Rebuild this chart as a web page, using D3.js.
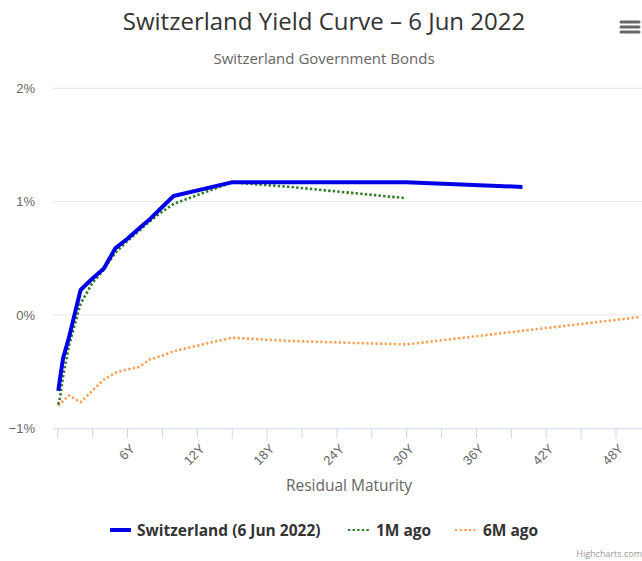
<!DOCTYPE html>
<html>
<head>
<meta charset="utf-8">
<script src="https://cdn.jsdelivr.net/npm/d3@7"></script>
<style>
  html, body { margin: 0; padding: 0; background: #fff; }
  svg { display: block; font-family: "Open Sans", "Noto Sans", sans-serif; }
</style>
</head>
<body>
<svg id="chart" width="642" height="561"></svg>
<script>
// Residual maturities in years
const maturities = [1/12, 0.25, 0.5, 1, 2, 3, 4, 5, 6, 7, 8, 9, 10, 15, 20, 30, 40, 50];

// Yields (%) by maturity; null where a series has no bond
const current = [-0.67, -0.55, -0.38, -0.20, 0.22, 0.32, 0.41, 0.59, 0.67, 0.76, 0.85, 0.95, 1.05, 1.17, 1.17, 1.17, 1.13, null];
const oneMonthAgo = [-0.79, -0.72, -0.54, -0.27, 0.10, 0.28, 0.40, 0.55, 0.65, 0.74, 0.83, 0.91, 0.98, 1.17, 1.13, 1.03, null, null];
const sixMonthsAgo = [-0.80, -0.78, -0.76, -0.71, -0.77, -0.67, -0.57, -0.51, -0.48, -0.46, -0.39, -0.36, -0.32, -0.20, -0.23, -0.26, null, -0.02];

const seriesNames = ["Switzerland (6 Jun 2022)", "1M ago", "6M ago"];
const xTicks = d3.range(0, 51, 3);
const yTicks = [-1, 0, 1, 2];

const svg = d3.select("#chart");
const W = 642;

const x = d3.scaleLinear().domain([-0.37, 52]).range([53, 662]);
const y = d3.scaleLinear().domain([-1, 2]).range([428.3, 88.3]);

// Title and subtitle
svg.append("text").attr("x", 324).attr("y", 30).attr("text-anchor", "middle")
  .attr("fill", "#333").attr("font-size", 24).text("Switzerland Yield Curve – 6 Jun 2022");
svg.append("text").attr("x", 324).attr("y", 64).attr("text-anchor", "middle")
  .attr("fill", "#666").attr("font-size", 15).text("Switzerland Government Bonds");

// Export menu icon
[22, 27, 32].forEach(yy => {
  svg.append("line").attr("x1", 621).attr("x2", 639).attr("y1", yy).attr("y2", yy)
    .attr("stroke", "#666").attr("stroke-width", 3).attr("stroke-linecap", "round");
});

// Horizontal grid
const grid = svg.append("g");
yTicks.filter(t => t !== -1).forEach(t => {
  grid.append("line").attr("x1", 53).attr("x2", W).attr("y1", y(t)).attr("y2", y(t))
    .attr("stroke", "#e6e6e6").attr("stroke-width", 1);
});

// Y axis labels
const yAxis = d3.axisLeft(y).tickValues(yTicks).tickSize(0)
  .tickFormat(d => (d < 0 ? "−" + Math.abs(d) : d) + "%");
const gy = svg.append("g").attr("transform", "translate(41,0)").call(yAxis);
gy.select(".domain").remove();
gy.selectAll("text").attr("fill", "#666").attr("font-size", 13).attr("x", -6);

// X axis
const xAxis = d3.axisBottom(x).tickValues(xTicks).tickSize(10).tickSizeOuter(0)
  .tickFormat(d => (d % 6 === 0 && d > 0) ? d + "Y" : "");
const gx = svg.append("g").attr("transform", `translate(0,${y(-1)})`).call(xAxis);
gx.select(".domain").attr("d", `M53,0.5H${W}`).attr("stroke", "#ccd6eb");
gx.selectAll(".tick line").attr("stroke", "#ccd6eb");
gx.selectAll(".tick text")
  .attr("fill", "#666").attr("font-size", 13)
  .attr("text-anchor", "end")
  .attr("transform", "translate(5,18) rotate(-45)")
  .attr("y", 0).attr("dy", "0.35em");

svg.append("text").attr("x", 349).attr("y", 491).attr("text-anchor", "middle")
  .attr("fill", "#666").attr("font-size", 15.5).text("Residual Maturity");

// Lines
const line = d3.line()
  .defined(d => d[1] !== null)
  .x(d => x(d[0])).y(d => y(d[1]));

svg.append("clipPath").attr("id", "plot-clip")
  .append("rect").attr("x", 40).attr("y", 70).attr("width", 610).attr("height", 380);

const styles = [
  { data: current, color: "#0000e6", width: 4, dash: null },
  { data: oneMonthAgo, color: "#2f7d24", width: 2.6, dash: "2.4,2.2" },
  { data: sixMonthsAgo, color: "#f7a35c", width: 2.6, dash: "2.4,2.2" }
];

const plot = svg.append("g").attr("clip-path", "url(#plot-clip)");
// draw back-to-front: 6M, 1M, current
[2, 1, 0].forEach(i => {
  const s = styles[i];
  const pts = maturities.map((m, k) => [m, s.data[k]]).filter(p => p[1] !== null);
  plot.append("path").datum(pts)
    .attr("d", line)
    .attr("fill", "none")
    .attr("stroke", s.color)
    .attr("stroke-width", s.width)
    .attr("stroke-linejoin", "round")
    .attr("stroke-dasharray", s.dash);
});

// Legend
const legend = svg.append("g").attr("font-size", 15.5).attr("font-weight", "bold").attr("fill", "#333");
const legendItems = [
  { x: 110, textX: 137 },
  { x: 348, textX: 376 },
  { x: 455, textX: 483 }
];
legendItems.forEach((it, i) => {
  const s = styles[i];
  legend.append("line").attr("x1", it.x).attr("x2", it.x + 21).attr("y1", 530).attr("y2", 530)
    .attr("stroke", s.color).attr("stroke-width", i === 0 ? 4 : 2.2)
    .attr("stroke-dasharray", s.dash);
  legend.append("text").attr("x", it.textX).attr("y", 535.5).text(seriesNames[i]);
});

svg.append("text").attr("x", 642).attr("y", 557).attr("text-anchor", "end")
  .attr("fill", "#999").attr("font-size", 9).text("Highcharts.com");
</script>
</body>
</html>
